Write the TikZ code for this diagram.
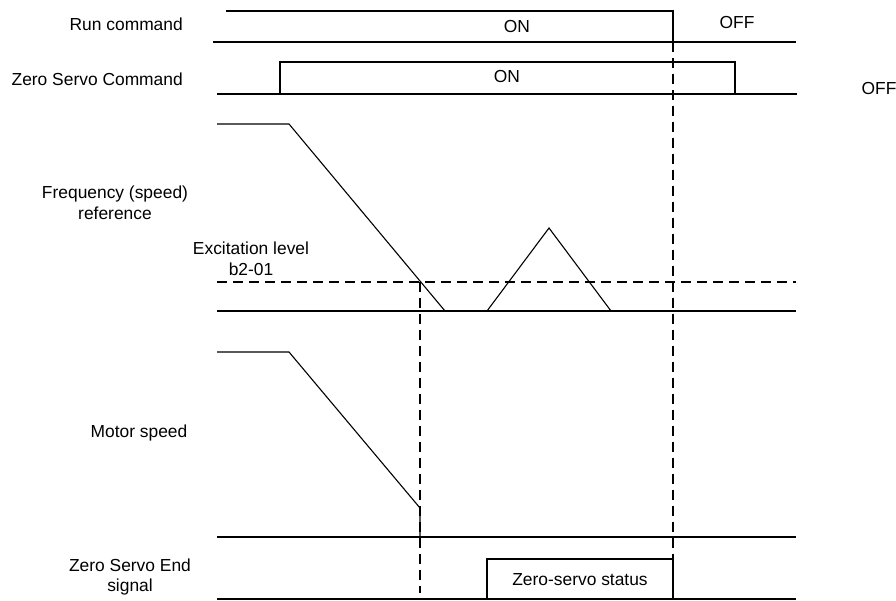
\documentclass[tikz,border=0pt]{standalone}
\usepackage{fontspec}
\setmainfont{Liberation Sans}
\begin{document}
\begin{tikzpicture}[x=1pt,y=-1pt,
  sig/.style={line width=1.1pt,line join=miter},
  thk/.style={line width=2.2pt},
  dsh/.style={line width=1.1pt,dash pattern=on 10pt off 6pt},
  lbl/.style={inner sep=0pt,font=\fontsize{17.4}{20.5}\selectfont,align=center},
  every node/.style={lbl}]
\useasboundingbox (0,0) rectangle (896,601);
% Run command
\coordinate (r1) at (226,11); \coordinate (r2) at (673,11);
\coordinate (r3) at (673,42); \coordinate (r4) at (796,42);
\coordinate (r0) at (213,42);
\draw[sig] (r1) -- (r2) -- (r3) -- (r4);
\draw[sig] (r0) -- (r3);
% Zero servo command
\coordinate (z0) at (217,94); \coordinate (z1) at (280,94);
\coordinate (z2) at (280,62); \coordinate (z3) at (735,62);
\coordinate (z4) at (735,94); \coordinate (z5) at (797,94);
\draw[thk] (z0) -- (z1);
\draw[sig] (z1) -- (z2) -- (z3) -- (z4);
\draw[sig] (z1) -- (z4);
\draw[thk] (z4) -- (z5);
% Frequency reference
\coordinate (f0) at (217,124); \coordinate (f1) at (289,124);
\coordinate (f2) at (445,311); \coordinate (f3) at (487,311);
\coordinate (f4) at (549,228); \coordinate (f5) at (611,311);
\coordinate (f6) at (796,311); \coordinate (fb) at (217,311);
\coordinate (e0) at (217,282); \coordinate (e1) at (796,282);
\draw[sig] (fb) -- (f6);
\draw[sig] (f0) -- (f1) -- (f2);
\draw[thk] (f2) -- (f3);
\draw[sig] (f3) -- (f4) -- (f5);
\draw[thk] (f5) -- (f6);
\draw[dsh] (e0) -- (e1);
% Motor speed
\coordinate (m0) at (217,352); \coordinate (m1) at (289,352);
\coordinate (m2) at (420,508); \coordinate (m3) at (420,537);
\coordinate (mb) at (217,537); \coordinate (m4) at (796,537);
\draw[sig] (m0) -- (m1) -- (m2) -- (m3);
\draw[sig] (mb) -- (m3);
\draw[thk] (m3) -- (m4);
% Zero servo end
\coordinate (s0) at (217,599); \coordinate (s1) at (487,599);
\coordinate (s2) at (487,559); \coordinate (s3) at (673,559);
\coordinate (s4) at (673,599); \coordinate (s5) at (796,599);
\draw[thk] (s0) -- (s1);
\draw[sig] (s1) -- (s2) -- (s3) -- (s4);
\draw[thk] (s1) -- (s4);
\draw[thk] (s4) -- (s5);
% dashed verticals
\coordinate (d1) at (673,42); \coordinate (d1e) at (673,593);
\coordinate (d2) at (420,282); \coordinate (d2e) at (420,593);
\draw[dsh] (d1) -- (d1e);
\draw[dsh] (d2) -- (d2e);
% labels
\node[anchor=east] (lrun) at (183,24) {Run command};
\node[anchor=east] (lzsc) at (183,79) {Zero Servo Command};
\node (lfreq) at (115,203) {Frequency (speed)\\reference};
\node (lexc) at (251,259) {Excitation level\\b2-01};
\node (lmot) at (139,433) {Motor speed};
\node (lend) at (130,577) {Zero Servo End\\signal};
\node (ron) at (517,27) {ON};
\node (roff) at (737,23) {OFF};
\node (zon) at (507,77) {ON};
\node (zoff) at (879,89) {OFF};
\node (zst) at (580,580) {Zero-servo status};
\end{tikzpicture}
\end{document}
